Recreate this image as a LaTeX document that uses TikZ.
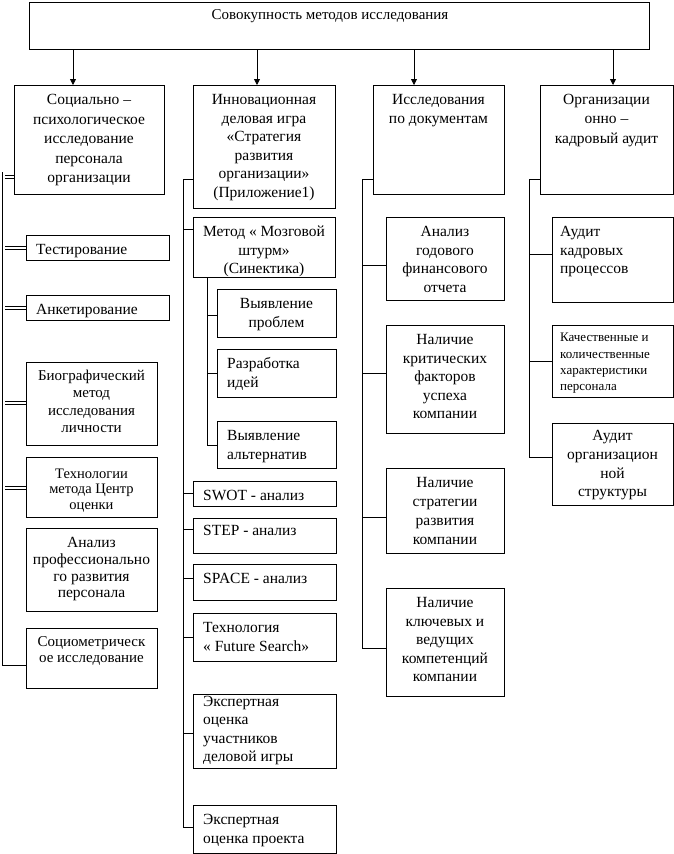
\documentclass[tikz,border=0pt]{standalone}
\usepackage{fontspec}
\setmainfont{Liberation Serif}
\usetikzlibrary{arrows.meta,fit}
\tikzset{
 box/.style={draw, line width=0.8pt, inner sep=0pt, outer sep=0pt},
 ln/.style={line width=0.8pt},
 dbl/.style={double, double distance=2pt, line width=0.6pt},
 arr/.style={line width=0.8pt, -{Triangle[length=6pt,width=6pt]}},
 txt/.style={inner sep=0pt, font=\fontsize{15.5}{18.5}\selectfont},
 tc/.style={txt, align=center, anchor=north, yshift=-6.5pt},
 tl/.style={txt, align=left, anchor=north west, yshift=-6.5pt, xshift=10pt},
}
\newcommand\bxc[7][]{\node[box, fit={(#3,#4)(#5,#6)}] (#2) {};
 \node[tc,#1] (#2t) at (#2.north) {\rule{0pt}{13pt}#7};}
\newcommand\bxl[7][]{\node[box, fit={(#3,#4)(#5,#6)}] (#2) {};
 \node[tl,#1] (#2t) at (#2.north west) {\rule{0pt}{13pt}#7};}
\begin{document}
\begin{tikzpicture}[x=1pt,y=-1pt]
\useasboundingbox (0,0) rectangle (674,854);
% top
\bxc[font=\fontsize{15}{18}\selectfont, yshift=2.5pt, xshift=-9pt]{top}{29}{2}{649}{49}{Совокупность методов исследования}
% level 1
\bxc[font=\fontsize{15.5}{19.5}\selectfont]{soc}{14}{85}{164}{194}{Социально –\\психологическое\\исследование\\персонала\\организации}
\bxc{innov}{193}{85}{335}{208}{Инновационная\\деловая игра\\«Стратегия\\развития\\организации»\\(Приложение1)}
\bxc{issl}{373}{85}{504}{194}{Исследования\\по документам}
\bxc[font=\fontsize{15.5}{19.2}\selectfont]{org}{540}{85}{673}{194}{Организации\\онно –\\кадровый аудит}
% column 1
\bxl{test}{26}{235}{169}{260}{Тестирование}
\bxl{anket}{26}{295}{169}{320}{Анкетирование}
\bxc[font=\fontsize{15}{17.2}\selectfont, yshift=1pt]{bio}{26}{362}{157}{445}{Биографический\\метод\\исследования\\личности}
\bxc[font=\fontsize{14.5}{15.5}\selectfont, yshift=-1.5pt]{tech}{26}{457}{157}{517}{Технологии\\метода Центр\\оценки}
\bxc[font=\fontsize{15.5}{16.7}\selectfont]{anpr}{26}{528}{157}{611}{Анализ\\профессионально\\го развития\\персонала}
\bxc[font=\fontsize{15}{15.7}\selectfont, yshift=1pt]{sociom}{26}{628}{157}{688}{Социометрическ\\ое исследование}
% column 2
\bxc{metod}{193}{217}{335}{277}{Метод « Мозговой\\штурм»\\(Синектика)}
\bxc{vp}{217}{289}{336}{337}{Выявление\\проблем}
\bxl{ri}{217}{349}{336}{397}{Разработка\\идей}
\bxl{va}{217}{421}{336}{468}{Выявление\\альтернатив}
\bxl{swot}{193}{481}{336}{506}{SWOT - анализ}
\bxl[yshift=2.5pt]{step}{193}{518}{336}{553}{STEP - анализ}
\bxl{space}{193}{564}{336}{600}{SPACE - анализ}
\bxl{future}{193}{613}{336}{661}{Технология\\« Future Search»}
\bxl[yshift=7.5pt]{expu}{193}{694}{336}{768}{Экспертная\\оценка\\участников\\деловой игры}
\bxl{expp}{193}{805}{336}{853}{Экспертная\\оценка проекта}
% column 3
\bxc{angod}{386}{217}{504}{300}{Анализ\\годового\\финансового\\отчета}
\bxc{krit}{386}{325}{504}{433}{Наличие\\критических\\факторов\\успеха\\компании}
\bxc[font=\fontsize{15.5}{19}\selectfont]{strat}{386}{468}{504}{553}{Наличие\\стратегии\\развития\\компании}
\bxc{klyuch}{386}{588}{504}{696}{Наличие\\ключевых и\\ведущих\\компетенций\\компании}
% column 4
\bxl[xshift=-2pt]{audk}{552}{217}{673}{302}{Аудит\\кадровых\\процессов}
\bxl[xshift=-2pt, font=\fontsize{13}{16.3}\selectfont, yshift=2.8pt]{kach}{552}{325}{673}{397}{Качественные и\\количественные\\характеристики\\персонала}
\bxc[font=\fontsize{15.5}{18.9}\selectfont, yshift=2.5pt]{audo}{552}{423}{673}{505}{Аудит\\организацион\\ной\\структуры}
% arrows from top
\coordinate (a1) at (73,0);
\coordinate (a2) at (257,0);
\coordinate (a3) at (414,0);
\coordinate (a4) at (613,0);
\draw[arr] (a1 |- top.south) -- (a1 |- soc.north);
\draw[arr] (a2 |- top.south) -- (a2 |- innov.north);
\draw[arr] (a3 |- top.south) -- (a3 |- issl.north);
\draw[arr] (a4 |- top.south) -- (a4 |- org.north);
% column 1 connectors (double lines)
\foreach \y/\n in {177/soc, 248/test, 308/anket, 403/bio, 488/tech}{
  \coordinate (l\n) at (5,\y);
  \draw[dbl] (l\n) -- (l\n -| \n.west);
}
\coordinate (L1) at (3.5,172);
\coordinate (L2) at (3.5,557);
\coordinate (L3) at (2.2,557);
\coordinate (L4) at (2.2,665);
\draw[dbl] (L1) -- (L2);
\draw[ln] (L3) -- (L4) -- (L4 -| sociom.west);
% column 2 connectors
\coordinate (T2a) at (183,179);
\coordinate (T2b) at (183,827);
\draw[ln] (T2a) -- (T2b);
\foreach \y/\n in {179/innov, 229/metod, 493/swot, 529/step, 578/space, 637/future, 733/expu, 827/expp}{
  \coordinate (m\n) at (183,\y);
  \draw[ln] (m\n) -- (m\n -| \n.west);
}
\coordinate (S2) at (207,445);
\draw[ln] (metod.south -| S2) -- (S2);
\foreach \y/\n in {315/vp, 373/ri, 445/va}{
  \coordinate (s\n) at (207,\y);
  \draw[ln] (s\n) -- (s\n -| \n.west);
}
% column 3 connectors
\coordinate (T3a) at (362,179);
\coordinate (T3b) at (362,648);
\draw[ln] (T3a) -- (T3b);
\foreach \y/\n in {179/issl, 265/angod, 373/krit, 517/strat, 648/klyuch}{
  \coordinate (r\n) at (362,\y);
  \draw[ln] (r\n) -- (r\n -| \n.west);
}
% column 4 connectors
\coordinate (T4a) at (529,179);
\coordinate (T4b) at (529,457);
\draw[ln] (T4a) -- (T4b);
\foreach \y/\n in {179/org, 254/audk, 361/kach, 457/audo}{
  \coordinate (q\n) at (529,\y);
  \draw[ln] (q\n) -- (q\n -| \n.west);
}
\end{tikzpicture}
\end{document}
